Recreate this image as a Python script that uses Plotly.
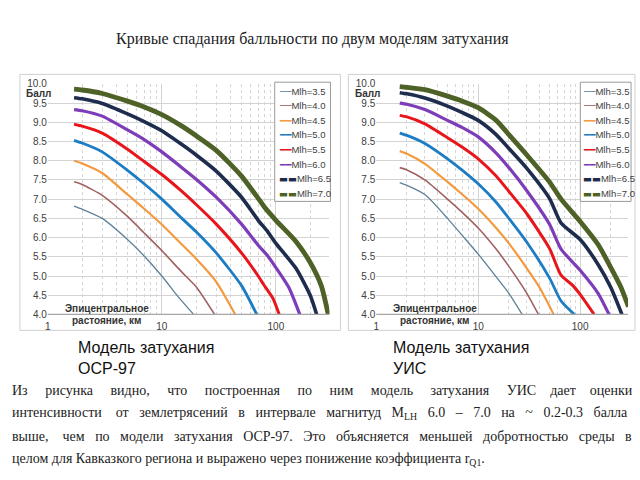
import plotly.graph_objects as go

# ---------------- data ----------------
magnitudes = ["3.5", "4.0", "4.5", "5.0", "5.5", "6.0", "6.5", "7.0"]
line_colors = ["#5E8197", "#A0625F", "#F39A3E", "#1C7CC4", "#E8161B", "#7D3DB8", "#1E2D4D", "#4E6127"]
line_widths = [1.3, 1.6, 2.2, 2.8, 3.0, 3.2, 3.6, 4.8]
legend_glyphs = ["──", "──", "━━", "━━", "━━", "━━", "▬▬", "▬▬"]

# ОСР-97 model (left)
osr_35_dist = [1.7, 2, 3, 5, 7, 10, 14, 19]
osr_35_ball = [6.82, 6.74, 6.50, 5.95, 5.52, 5.00, 4.45, 4.00]
osr_40_dist = [1.7, 2, 3, 5, 7, 10, 15, 20, 29]
osr_40_ball = [7.45, 7.38, 7.10, 6.55, 6.12, 5.66, 5.10, 4.72, 4.00]
osr_45_dist = [1.7, 2, 3, 5, 7, 10, 15, 20, 30, 44]
osr_45_ball = [8.00, 7.93, 7.68, 7.12, 6.75, 6.34, 5.82, 5.45, 4.85, 4.00]
osr_50_dist = [1.7, 2, 3, 5, 7, 10, 15, 20, 30, 50, 68]
osr_50_ball = [8.53, 8.46, 8.23, 7.75, 7.40, 7.00, 6.50, 6.15, 5.60, 4.75, 4.00]
osr_55_dist = [1.7, 2, 3, 5, 7, 10, 15, 20, 30, 50, 70, 78, 85, 95, 107]
osr_55_ball = [8.95, 8.90, 8.72, 8.30, 7.98, 7.64, 7.20, 6.86, 6.35, 5.60, 5.00, 4.78, 4.62, 4.40, 4.00]
osr_60_dist = [1.7, 2, 3, 5, 7, 10, 15, 20, 30, 50, 70, 85, 100, 130, 162]
osr_60_ball = [9.33, 9.30, 9.16, 8.80, 8.55, 8.23, 7.82, 7.52, 7.05, 6.35, 5.80, 5.52, 5.22, 4.70, 4.00]
osr_65_dist = [1.7, 2, 3, 5, 7, 10, 15, 20, 30, 50, 70, 85, 100, 150, 200, 228]
osr_65_ball = [9.64, 9.61, 9.49, 9.22, 9.02, 8.78, 8.42, 8.15, 7.73, 7.05, 6.45, 6.15, 5.85, 5.20, 4.50, 4.00]
osr_70_dist = [1.7, 2, 3, 5, 7, 10, 15, 20, 30, 50, 70, 80, 100, 150, 200, 250, 288]
osr_70_ball = [9.86, 9.84, 9.75, 9.55, 9.40, 9.20, 8.90, 8.65, 8.27, 7.60, 7.02, 6.78, 6.45, 5.90, 5.35, 4.75, 4.00]

# УИС model (right)
uis_35_dist = [1.7, 2, 3, 5, 7, 10, 15, 20, 27]
uis_35_ball = [7.43, 7.36, 7.12, 6.50, 6.05, 5.57, 4.98, 4.55, 4.00]
uis_40_dist = [1.7, 2, 3, 5, 7, 10, 15, 20, 30, 39]
uis_40_ball = [7.82, 7.76, 7.50, 7.00, 6.65, 6.25, 5.70, 5.25, 4.55, 4.00]
uis_45_dist = [1.7, 2, 3, 5, 7, 10, 15, 20, 30, 40, 55]
uis_45_ball = [8.25, 8.18, 7.92, 7.45, 7.12, 6.75, 6.25, 5.85, 5.20, 4.70, 4.00]
uis_50_dist = [1.7, 2, 3, 5, 7, 10, 15, 20, 30, 50, 65, 88]
uis_50_ball = [8.72, 8.66, 8.45, 8.05, 7.75, 7.40, 6.92, 6.50, 5.88, 4.95, 4.35, 4.00]
uis_55_dist = [1.7, 2, 3, 5, 7, 10, 15, 20, 30, 50, 65, 85, 100, 137]
uis_55_ball = [9.18, 9.14, 8.96, 8.60, 8.35, 8.05, 7.60, 7.20, 6.62, 5.72, 5.02, 4.75, 4.52, 4.00]
uis_60_dist = [1.7, 2, 3, 5, 7, 10, 15, 20, 30, 50, 65, 100, 150, 192]
uis_60_ball = [9.50, 9.47, 9.33, 9.05, 8.86, 8.62, 8.20, 7.82, 7.22, 6.35, 5.70, 5.15, 4.55, 4.00]
uis_65_dist = [1.7, 2, 3, 5, 7, 10, 15, 20, 30, 50, 65, 100, 150, 200, 257]
uis_65_ball = [9.77, 9.74, 9.63, 9.42, 9.25, 9.05, 8.68, 8.32, 7.80, 7.02, 6.38, 5.95, 5.30, 4.70, 4.00]
uis_70_dist = [1.7, 2, 3, 5, 7, 10, 15, 20, 30, 50, 65, 100, 150, 200, 250, 298]
uis_70_ball = [9.93, 9.91, 9.85, 9.68, 9.55, 9.38, 9.05, 8.68, 8.15, 7.45, 7.00, 6.42, 5.82, 5.22, 4.72, 4.20]

x_tick_vals = [1, 10, 100]
x_tick_text = ["1", "10", "100"]
x_minor_vals = [2, 3, 4, 5, 6, 7, 8, 9, 20, 30, 40, 50, 60, 70, 80, 90, 200, 300]
y_tick_vals = [4.0, 4.5, 5.0, 5.5, 6.0, 6.5, 7.0, 7.5, 8.0, 8.5, 9.0, 9.5, 10.0]

title_text = "Кривые спадания балльности по двум моделям затухания"
left_caption = ["Модель затухания", "ОСР-97"]
right_caption = ["Модель затухания", "УИС"]
paragraph_lines = [
    "Из рисунка видно, что построенная по ним модель затухания УИС дает оценки",
    "интенсивности от землетрясений в интервале магнитуд M<sub>LH</sub> 6.0 – 7.0 на ~ 0.2-0.3 балла",
    "выше, чем по модели затухания ОСР-97. Это объясняется меньшей добротностью среды в",
    "целом для Кавказкого региона и выражено через понижение коэффициента r<sub>Q1</sub>.",
]
paragraph_extra_spaces = [42, 27, 23, 0]   # extra non-breaking spaces to justify each line

osr_series = [(osr_35_dist, osr_35_ball), (osr_40_dist, osr_40_ball), (osr_45_dist, osr_45_ball),
              (osr_50_dist, osr_50_ball), (osr_55_dist, osr_55_ball), (osr_60_dist, osr_60_ball),
              (osr_65_dist, osr_65_ball), (osr_70_dist, osr_70_ball)]
uis_series = [(uis_35_dist, uis_35_ball), (uis_40_dist, uis_40_ball), (uis_45_dist, uis_45_ball),
              (uis_50_dist, uis_50_ball), (uis_55_dist, uis_55_ball), (uis_60_dist, uis_60_ball),
              (uis_65_dist, uis_65_ball), (uis_70_dist, uis_70_ball)]

# ---------------- figure ----------------
W, H = 640, 480
def fx(p): return p / W
def fy(p): return 1 - p / H

SANS = "Liberation Sans, Arial, sans-serif"
SERIF = "Liberation Serif, Times New Roman, serif"

fig = go.Figure()

for (d, b), m, c, w in zip(osr_series, magnitudes, line_colors, line_widths):
    fig.add_trace(go.Scatter(x=d, y=b, mode="lines", name="Mlh=" + m, showlegend=False,
                             line=dict(color=c, width=w, shape="spline", smoothing=0.6),
                             xaxis="x", yaxis="y"))
for (d, b), m, c, w in zip(uis_series, magnitudes, line_colors, line_widths):
    fig.add_trace(go.Scatter(x=d, y=b, mode="lines", name="Mlh=" + m, showlegend=False,
                             line=dict(color=c, width=w, shape="spline", smoothing=0.6),
                             xaxis="x2", yaxis="y2"))

grid_major = "#D3D3D3"
grid_minor = "#D6D6D6"

def xaxis_cfg(domain, anchor):
    return dict(type="log", domain=domain, anchor=anchor, range=[0, 2.47],
                tickvals=x_tick_vals, ticktext=x_tick_text, ticks="", ticklabelstandoff=5,
                showgrid=True, gridcolor=grid_major, gridwidth=1,
                minor=dict(tickvals=x_minor_vals, showgrid=True, gridcolor=grid_minor,
                           griddash="dot", gridwidth=1, ticks=""),
                showline=False, zeroline=False,
                tickfont=dict(family=SANS, size=10, color="#404040"))

def yaxis_cfg(domain, anchor):
    return dict(domain=domain, anchor=anchor, range=[4, 10], tickvals=y_tick_vals,
                tickformat=".1f", ticks="", showgrid=True, gridcolor=grid_major, gridwidth=1,
                zeroline=False, showline=False,
                tickfont=dict(family=SANS, size=10, color="#404040"))

y_dom = [fy(316.7), fy(80.7)]
fig.update_layout(
    width=W, height=H, margin=dict(l=0, r=0, t=0, b=0),
    paper_bgcolor="white", plot_bgcolor="white",
    xaxis=xaxis_cfg([fx(45), fx(328)], "y"),
    yaxis=yaxis_cfg(y_dom, "x"),
    xaxis2=xaxis_cfg([fx(375), fx(628)], "y2"),
    yaxis2=yaxis_cfg(y_dom, "x2"),
    showlegend=False,
)

# chart frames
for x0, x1 in [(17, 339), (347, 635)]:
    fig.add_shape(type="rect", xref="paper", yref="paper",
                  x0=fx(x0), x1=fx(x1), y0=fy(333), y1=fy(71),
                  line=dict(color="#D0D0D0", width=1), fillcolor="rgba(0,0,0,0)", layer="below")
# bottom axis line
for x0, x1 in [(45, 328), (375, 628)]:
    fig.add_shape(type="line", xref="paper", yref="paper",
                  x0=fx(x0), x1=fx(x1), y0=fy(316.7), y1=fy(316.7),
                  line=dict(color="#A6A6A6", width=1.2))
# legend boxes
for x0, x1 in [(273, 329), (580, 631)]:
    fig.add_shape(type="rect", xref="paper", yref="paper",
                  x0=fx(x0), x1=fx(x1), y0=fy(201), y1=fy(79),
                  line=dict(color="#9A9A9A", width=1), fillcolor="white", layer="above")

ann = []
ann.append(dict(text=title_text, x=fx(311), y=fy(35), xanchor="center", yanchor="middle",
                font=dict(family=SERIF, size=16, color="#222222")))
for xl in [21, 352]:
    ann.append(dict(text="<b>Балл</b>", x=fx(xl), y=fy(91), xanchor="left", yanchor="middle",
                    font=dict(family=SANS, size=10, color="#333333")))
for xc in [104, 434]:
    ann.append(dict(text="<b>Эпицентральное</b>", x=fx(xc), y=fy(311), xanchor="center", yanchor="middle",
                    font=dict(family=SANS, size=10, color="#333333")))
    ann.append(dict(text="<b>растояние, км</b>", x=fx(xc), y=fy(323), xanchor="center", yanchor="middle",
                    font=dict(family=SANS, size=10, color="#333333")))
# legends
for xl in [275, 581]:
    for i, (m, c, g) in enumerate(zip(magnitudes, line_colors, legend_glyphs)):
        txt = ('<span style="color:%s;font-family:DejaVu Sans">%s</span>Mlh=%s' % (c, g, m))
        ann.append(dict(text=txt, x=fx(xl), y=fy(88.3 + i * 14.9), xanchor="left", yanchor="middle",
                        font=dict(family=SANS, size=9.5, color="#404040")))
for xl, cap in [(73, left_caption), (390, right_caption)]:
    ann.append(dict(text=cap[0], x=fx(xl), y=fy(351), xanchor="left", yanchor="middle",
                    font=dict(family=SANS, size=16, color="#111111")))
    ann.append(dict(text=cap[1], x=fx(xl), y=fy(372), xanchor="left", yanchor="middle",
                    font=dict(family=SANS, size=16, color="#111111")))

def justify(line, extra):
    words = line.split(" ")
    gaps = len(words) - 1
    if extra <= 0 or gaps <= 0:
        return line
    out = words[0]
    for k in range(gaps):
        n = extra // gaps + (1 if k < extra % gaps else 0)
        out += " " + "\u00a0" * n + words[k + 1]
    return out

for i, (line, ex) in enumerate(zip(paragraph_lines, paragraph_extra_spaces)):
    ann.append(dict(text=justify(line, ex), x=fx(7), y=fy(395 + i * 23.5), xanchor="left", yanchor="middle",
                    font=dict(family=SERIF, size=14, color="#222222")))
for a in ann:
    a.update(xref="paper", yref="paper", showarrow=False)
fig.update_layout(annotations=ann)

fig.write_html("out.html", config={"displayModeBar": False},
               post_script="document.body.style.margin='0px';")
